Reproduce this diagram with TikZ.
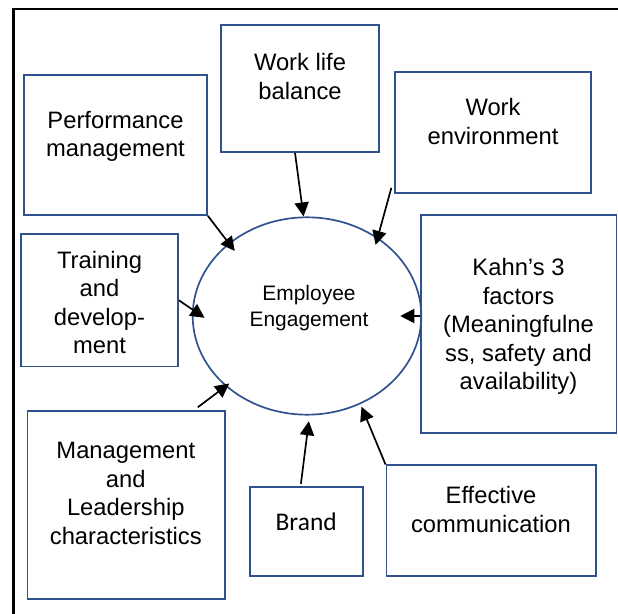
\documentclass[tikz,border=0pt]{standalone}
\usepackage{fontspec}
\setmainfont{Liberation Sans}
\newfontfamily\brandfont{Carlito}
\usetikzlibrary{shapes.geometric,arrows.meta,calc}
\definecolor{boxblue}{HTML}{2F528F}
\tikzset{
  box/.style={draw=boxblue, line width=1.2pt, inner sep=0pt},
  txt/.style={align=center, inner sep=0pt, font=\fontsize{16.9pt}{20.3pt}\selectfont},
  hub/.style={ellipse, draw=boxblue, line width=1.2pt, inner sep=0pt,
    minimum width=5.715cm, minimum height=4.935cm},
  feeds/.style={-{Triangle[length=10pt,width=10pt]}, line width=1.2pt},
}
\begin{document}
\begin{tikzpicture}
  \useasboundingbox (0,0) rectangle (15.45,15.325);
  \draw[line width=1.8pt] (0.3375,-0.1) -- (0.3375,15.1) -- (15.6,15.1);

  % factor boxes and the hub
  \node[box, minimum width=4.575cm, minimum height=3.5cm] (pm) at (2.8875,11.7) {};
  \node[box, minimum width=3.95cm, minimum height=3.175cm] (wlb) at (7.5,13.1125) {};
  \node[box, minimum width=4.9cm, minimum height=3.025cm] (we) at (12.325,12.0125) {};
  \node[box, minimum width=3.925cm, minimum height=3.3125cm] (tr) at (2.4875,7.81875) {};
  \node[box, minimum width=4.89cm, minimum height=5.45cm] (kahn) at (12.97,7.225) {};
  \node[box, minimum width=4.94cm, minimum height=4.685cm] (mgmt) at (3.154,2.7) {};
  \node[box, minimum width=2.825cm, minimum height=2.23cm] (brand) at (7.6625,2.034) {};
  \node[box, minimum width=5.24cm, minimum height=2.775cm] (eff) at (12.279,2.305) {};
  \node[hub] (ee) at (7.675,7.425) {};

  % texts
  \node[txt] (pm-t) at (2.8875,11.915) {Performance\\management};
  \node[txt] (wlb-t) at (7.5,13.4075) {Work life\\balance};
  \node[txt] (we-t) at (12.325,12.2825) {Work\\environment};
  \node[txt] (tr-t) at (2.4875,7.76) {Training\\and\\develop-\\ment};
  \node[txt] (kahn-t) at (12.9625,7.1625) {Kahn’s 3\\factors\\(Meaningfulne\\ss, safety and\\availability)};
  \node[txt] (mgmt-t) at (3.145,2.9875) {Management\\and\\Leadership\\characteristics};
  \node[txt, font=\brandfont\fontsize{18.1pt}{21pt}\selectfont] (brand-t) at (7.655,2.2825) {Brand};
  \node[txt] (eff-t) at (12.275,2.5825) {Effective\\communication};
  \node[txt, font=\fontsize{14.9pt}{18.5pt}\selectfont] (ee-t) at (7.725,7.635) {Employee\\Engagement};

  % arrows into the hub
  \draw[feeds] (pm.south east) -- ($(ee.center)!0.906!(ee.138)$);
  \draw[feeds] ($(wlb.south)+(-0.125,0)$) -- (ee.92);
  \draw[feeds] ($(we.south west)+(-0.07,0.15)$) -- ($(ee.center)!0.93!(ee.46)$);
  \draw[feeds] (tr.east) -- ($(ee.center)!0.89!(ee.181)$);
  \draw[feeds] (kahn.west |- ee.center) -- ($(ee.center)!0.81!(ee.east)$);
  \draw[feeds] ($(mgmt.north east)+(-0.7,0.08)$) -- ($(ee.center)!0.957!(ee.221)$);
  \draw[feeds] ($(brand.north)+(-0.14,0.06)$) -- ($(ee.center)!1.057!(ee.271)$);
  \draw[feeds] (eff.north west) -- ($(ee.center)!1.027!(ee.301)$);
\end{tikzpicture}
\end{document}
